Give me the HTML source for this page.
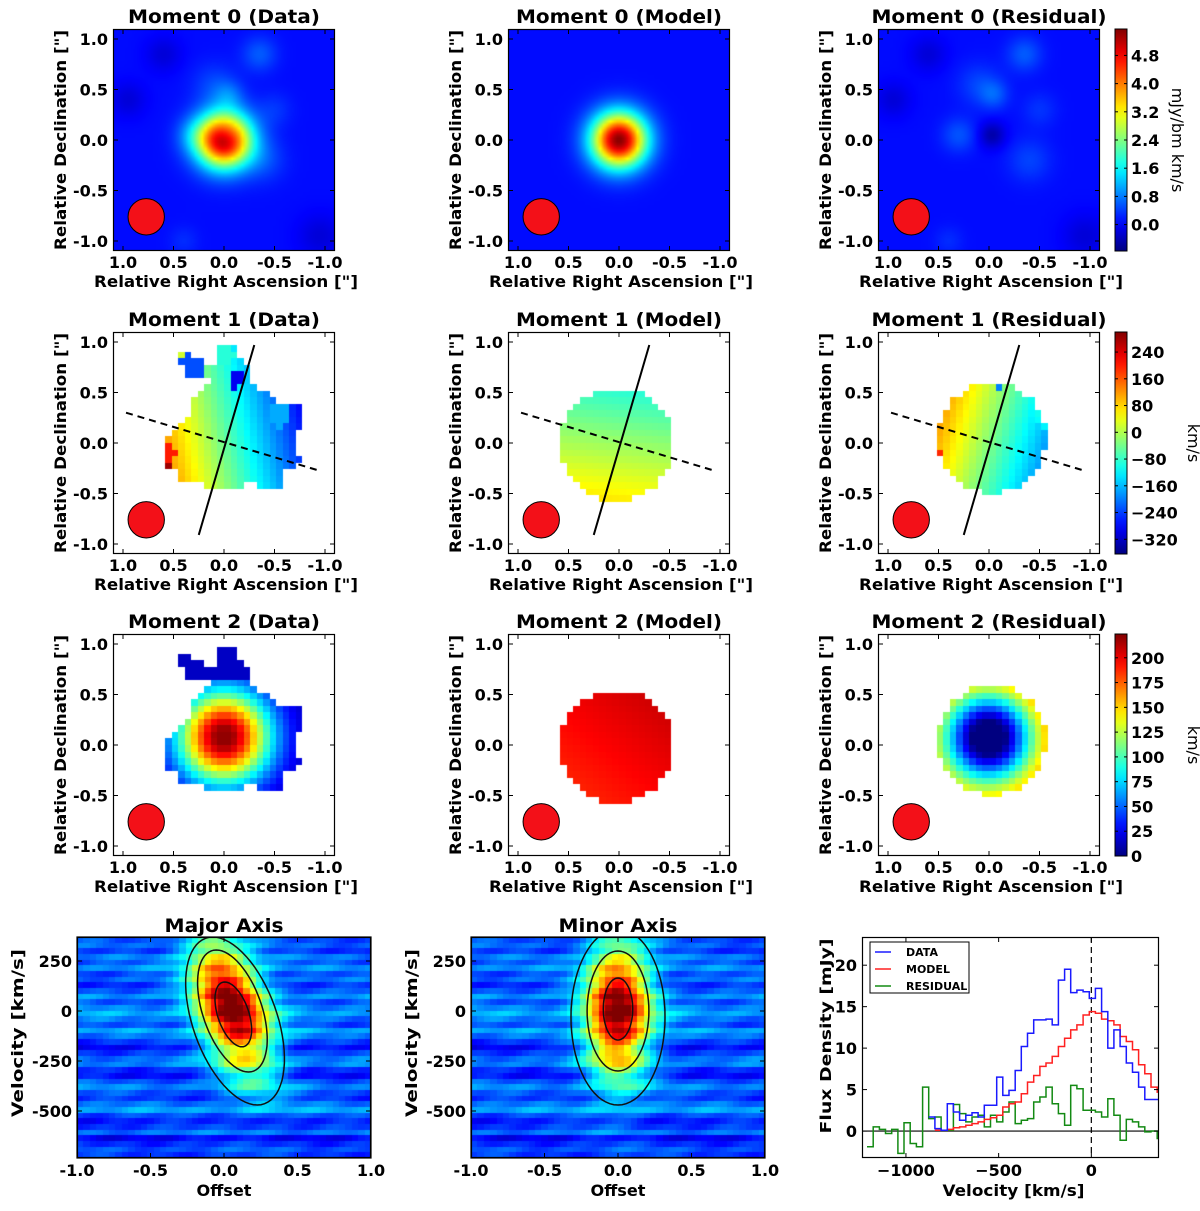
<!DOCTYPE html>
<html><head><meta charset="utf-8">
<style>
html,body{margin:0;padding:0;background:#fff;}
#wrap{position:relative;width:1200px;height:1211px;overflow:hidden;background:#fff;font-family:"DejaVu Sans","Liberation Sans",sans-serif;}
canvas{position:absolute;}
#ov{position:absolute;left:0;top:0;}
</style></head>
<body>
<div id="wrap">
<svg id="ov" width="1200" height="1211" xmlns="http://www.w3.org/2000/svg"></svg>
</div>
<script>
// ===== Data arrays =====
const resBlobs = [[-0.35,0.85,0.5,0.12],[0.1,0.55,0.35,0.15],[-0.05,0.45,0.45,0.1],[0.3,0.05,0.45,0.12],[-0.4,-0.2,0.35,0.15],[-0.5,0.3,0.25,0.12],[-0.03,0.05,-0.6,0.09],[0.6,0.85,-0.3,0.12],[0.95,0.4,-0.3,0.12],[-0.95,-0.95,-0.3,0.15],[0.4,-1.0,0.2,0.1]];
const m0Peak = [0.0, 0.0, 5.4, 0.19];
const m0Range = [-0.75, 5.55];
const m0Ticks = [0.0,0.8,1.6,2.4,3.2,4.0,4.8];
const maskRA  = [0.04,-0.06,-0.11,-0.24,-0.24,-0.42,-0.55,-0.75,-0.75,-0.69,-0.75,-0.60,-0.60,-0.32,-0.27,0.01,0.14,0.17,0.42,0.49,0.58,0.58,0.53,0.44,0.34,0.29,0.17,0.14,0.34,0.44,0.44,0.34,0.14,0.06,0.06];
const maskDec = [0.97,1.0,0.92,0.76,0.59,0.52,0.38,0.36,0.16,-0.04,-0.17,-0.30,-0.43,-0.43,-0.40,-0.48,-0.48,-0.40,-0.38,-0.28,-0.23,-0.09,0.13,0.15,0.29,0.46,0.54,0.62,0.64,0.79,0.92,0.90,0.76,0.76,0.97];
const modelDisk = [0.02,-0.01,0.56];
const resDisk = [-0.03,0.05,0.54];
const m1DataCoef = [-45, 280, -60];
const m1ModelCoef = [-15, 20, -140];
const m1Patches = [[0.32,0.75,-230,0.14],[-0.12,0.62,-290,0.08],[0.0,0.88,-90,0.1],[0.55,-0.1,200,0.08],[0.55,-0.25,280,0.05],[-0.55,0.28,-170,0.12]];
const m1Range = [-364, 300];
const m1Ticks = [-320,-240,-160,-80,0,80,160,240];
const m1Major = [[0.25,-0.91],[-0.3,0.97]];
const m1Minor = [[0.97,0.3],[-0.93,-0.27]];
const m2DataPeak = [0.0, 0.08, 215, 0.32, 10];
const m2Model = [198, -10, 12];
const m2Range = [0, 224];
const m2Ticks = [0,25,50,75,100,125,150,175,200];
const beam = [0.77,-0.76,0.18];
const pvBgRows = [0.2,0.22,0.17,0.24,0.2,0.26,0.19,0.23,0.17,0.22,0.28,0.21,0.26,0.3,0.24,0.19,0.28,0.23,0.17,0.12,0.18,0.24,0.26,0.17,0.14,0.21,0.26,0.2,0.17,0.23,0.28,0.19,0.15,0.18,0.24,0.12,0.17,0.21,0.18];
const pvMajor = [0.05, 20, 0.16, 230, 0.8, -0.00036];
const pvMinor = [0.0, 0, 0.15, 230, 0.8, 0.0];
const pvContMajor = [[0.3,420,-50],[0.21,305,0],[0.11,162,-17]];
const pvContMinor = [[0.32,440,-30],[0.21,300,0],[0.1,155,10]];
const pvXTicks = [-1.0,-0.5,0.0,0.5,1.0];
const pvYTicks = [250,0,-250,-500];
const specStart = -1210, specWidth = 33.3;
const specResidual = [-1.9,0.5,0.2,-0.3,0.2,-2.7,1.0,-1.5,-1.9,5.3,1.5,1.7,0.1,0.1,3.2,2.1,1.1,1.7,1.9,0.5,1.9,1.1,2.3,3.5,0.9,1.3,1.5,3.5,4.1,5.3,3.3,2.1,0.7,5.5,5.1,2.5,2.5,2.3,1.7,3.9,1.9,-1.1,1.4,1.1,0.5,-0.1,0.0,-0.9];
const specModel = [null,null,null,null,null,null,null,null,null,null,null,0.1,0.1,0.2,0.4,0.5,0.7,0.9,1.1,1.4,1.6,1.9,2.9,3.3,3.5,4.5,5.9,6.7,7.8,8.2,9.0,10.2,11.2,12.2,12.8,14.0,14.4,14.2,13.5,13.3,12.8,11.4,10.8,9.8,8.0,6.9,5.3,4.7];
const specData = [null,null,null,null,null,null,null,null,null,null,1.7,0.3,0.1,3.3,2.3,1.3,1.9,2.2,1.7,3.1,3.1,6.5,4.3,4.9,7.3,10.2,11.8,13.4,13.4,13.5,12.8,18.2,19.5,16.7,17.0,16.8,16.0,17.2,14.4,10.0,12.2,10.2,8.2,7.1,5.3,3.8,3.8,3.8];
const specXTicks = [-1000,-500,0];
const specYTicks = [0,5,10,15,20];

// ===== helpers =====
const NS = "http://www.w3.org/2000/svg";
const svg = document.getElementById('ov');
const wrap = document.getElementById('wrap');
function el(tag, attrs, parent){const e=document.createElementNS(NS,tag);for(const k in attrs)e.setAttribute(k,attrs[k]);(parent||svg).appendChild(e);return e;}
function txt(s, x, y, size, opts){
  opts=opts||{};
  const t=el('text',{x:x,y:y,'font-size':size,'font-weight':opts.w||'bold','text-anchor':opts.a||'middle','font-family':'"DejaVu Sans","Liberation Sans",sans-serif',fill:'#000'});
  if(opts.rot!==undefined) t.setAttribute('transform','rotate('+opts.rot+' '+x+' '+y+')');
  if(opts.len){t.setAttribute('textLength',opts.len);t.setAttribute('lengthAdjust','spacingAndGlyphs');}
  t.textContent=s;return t;
}
function jet(t){t=Math.max(0,Math.min(1,t));const c=x=>Math.round(255*Math.max(0,Math.min(1,x)));return [c(1.5-Math.abs(4*t-3)),c(1.5-Math.abs(4*t-2)),c(1.5-Math.abs(4*t-1))];}
function makeImage(name,x,y,w,h,nx,ny,fn,vmin,vmax,smooth){
  const c=document.createElement('canvas');c.width=w;c.height=h;c.style.left=x+'px';c.style.top=y+'px';
  
  
  wrap.insertBefore(c, svg);
  const s=document.createElement('canvas');s.width=nx;s.height=ny;
  const sc=s.getContext('2d');const im=sc.createImageData(nx,ny);
  for(let j=0;j<ny;j++)for(let i=0;i<nx;i++){
    const v=fn(i,j);const k=(j*nx+i)*4;
    if(v===null){im.data[k+3]=0;continue;}
    const col=jet((v-vmin)/(vmax-vmin));im.data[k]=col[0];im.data[k+1]=col[1];im.data[k+2]=col[2];im.data[k+3]=255;
  }
  sc.putImageData(im,0,0);
  const ctx=c.getContext('2d');ctx.imageSmoothingEnabled=smooth;ctx.drawImage(s,0,0,w,h);
}
function inPoly(px,py,xs,ys){let ins=false;for(let i=0,j=xs.length-1;i<xs.length;j=i++){if(((ys[i]>py)!==(ys[j]>py))&&(px<(xs[j]-xs[i])*(py-ys[i])/(ys[j]-ys[i])+xs[i]))ins=!ins;}return ins;}
function inDisk(ra,dec,d){return (ra-d[0])**2+(dec-d[1])**2<=d[2]*d[2];}
function g2(ra,dec,b){return b[2]*Math.exp(-((ra-b[0])**2+(dec-b[1])**2)/(2*b[3]*b[3]));}

// ===== map panels =====
const colX=[113,508,878], rowY=[29,332,634], SZ=222, SC=101;
function raOf(i,n){return 1.1-(i+0.5)*2.2/n;}
function m0res(ra,dec){let v=0.1;for(const b of resBlobs)v+=g2(ra,dec,b);return v;}
function m0model(ra,dec){return 0.1+g2(ra,dec,m0Peak);}
function m1data(ra,dec){let v=m1DataCoef[0]+m1DataCoef[1]*ra+m1DataCoef[2]*dec;for(const p of m1Patches){const d=Math.hypot(ra-p[0],dec-p[1]);if(d<p[3])v=p[2];}return v;}
function m1model(ra,dec){return m1ModelCoef[0]+m1ModelCoef[1]*ra+m1ModelCoef[2]*dec;}
function m2data(ra,dec){const b=[m2DataPeak[0],m2DataPeak[1],m2DataPeak[2],m2DataPeak[3]];let v=m2DataPeak[4]+g2(ra,dec,b);if(dec>0.62)v=Math.min(v,15);return Math.min(v,220);}
function m2model(ra,dec){return m2Model[0]+m2Model[1]*ra+m2Model[2]*dec;}

function mapAxes(col,row,title,key,tlen){
  const x0=colX[col],y0=rowY[row],cx=x0+SZ/2,cy=y0+SZ/2;
  const g=el('g',{});
  
  
  const fr=el('rect',{x:x0+0.5,y:y0+0.5,width:SZ-1,height:SZ-1,fill:'none',stroke:'#000','stroke-width':1.2},g);
  
  
  const tl=['1.0','0.5','0.0','-0.5','-1.0'], tv=[1,0.5,0,-0.5,-1];
  tv.forEach((v,k)=>{
    const px=cx-v*SC, py=cy-v*SC;
    el('line',{x1:px,y1:y0,x2:px,y2:y0+5,stroke:'#000'},g);
    el('line',{x1:px,y1:y0+SZ,x2:px,y2:y0+SZ-5,stroke:'#000'},g);
    el('line',{x1:x0,y1:py,x2:x0+5,y2:py,stroke:'#000'},g);
    el('line',{x1:x0+SZ,y1:py,x2:x0+SZ-5,y2:py,stroke:'#000'},g);
    const a=txt(tl[k],px,y0+239,16,{});
    
    
    const b=txt(tl[k],x0-5,py+6,16,{a:'end'});
    
    
  });
  const xl=txt('Relative Right Ascension ["]',cx+2,y0+258,16,{len:264});
  
  
  const yl=txt('Relative Declination ["]',x0-47,cy,16,{rot:-90,len:220});
  
  
  const tt=txt(title,cx,y0-6,19,{len:tlen});
  
  
  const bc=el('circle',{cx:cx-beam[0]*SC,cy:cy-beam[1]*SC,r:beam[2]*SC,fill:'#f31018',stroke:'#000','stroke-width':1},g);
  
  
  return {x0,y0,cx,cy,g};
}
function mapImage(col,row,key,fn,range,nx,smooth){
  const x0=colX[col],y0=rowY[row];
  makeImage(key+'-image',x0,y0,SZ,SZ,nx,nx,(i,j)=>fn(raOf(i,nx),raOf(j,nx)),range[0],range[1],smooth);
}
function colorbar(row,ticks,range,label,key,lx){
  const y0=rowY[row],x=1115,w=12;
  const defs=el('defs',{});
  const lg=el('linearGradient',{id:'cb'+row,x1:0,y1:1,x2:0,y2:0},defs);
  for(let k=0;k<=20;k++){const c=jet(k/20);el('stop',{offset:(k/20),'stop-color':'rgb('+c.join(',')+')'},lg);}
  const r=el('rect',{x:x,y:y0,width:w,height:SZ,fill:'url(#cb'+row+')',stroke:'#000','stroke-width':1});
  
  
  ticks.forEach(v=>{
    const py=y0+SZ-(v-range[0])/(range[1]-range[0])*SZ;
    el('line',{x1:x,y1:py,x2:x+3,y2:py,stroke:'#000'});
    el('line',{x1:x+w,y1:py,x2:x+w-3,y2:py,stroke:'#000'});
    const t=txt((row!==0)?String(v).replace('-','\u2212'):v.toFixed(1),x+w+4,py+6,16,{a:'start'});
    
    
  });
  const l=txt(label,lx,y0+SZ/2,16,{rot:90,w:'normal'});
  
  
}

mapImage(0,0,'moment0-data',(ra,dec)=>m0model(ra,dec)+m0res(ra,dec)-0.1,m0Range,66,true);
mapImage(1,0,'moment0-model',(ra,dec)=>m0model(ra,dec),m0Range,66,true);
mapImage(2,0,'moment0-residual',(ra,dec)=>m0res(ra,dec),m0Range,66,true);
mapImage(0,1,'moment1-data',(ra,dec)=>inPoly(ra,dec,maskRA,maskDec)?m1data(ra,dec):null,m1Range,34,false);
mapImage(1,1,'moment1-model',(ra,dec)=>inDisk(ra,dec,modelDisk)?m1model(ra,dec):null,m1Range,34,false);
mapImage(2,1,'moment1-residual',(ra,dec)=>inDisk(ra,dec,resDisk)?(m1data(ra,dec)-m1model(ra,dec)):null,m1Range,34,false);
mapImage(0,2,'moment2-data',(ra,dec)=>inPoly(ra,dec,maskRA,maskDec)?m2data(ra,dec):null,m2Range,34,false);
mapImage(1,2,'moment2-model',(ra,dec)=>inDisk(ra,dec,modelDisk)?m2model(ra,dec):null,m2Range,34,false);
mapImage(2,2,'moment2-residual',(ra,dec)=>inDisk(ra,dec,resDisk)?Math.max(0,m2model(ra,dec)-m2data(ra,dec)):null,m2Range,34,false);

const titles=[['Moment 0 (Data)','Moment 0 (Model)','Moment 0 (Residual)'],['Moment 1 (Data)','Moment 1 (Model)','Moment 1 (Residual)'],['Moment 2 (Data)','Moment 2 (Model)','Moment 2 (Residual)']];
const titleLens=[192,206,235];
const keys=[['moment0-data','moment0-model','moment0-residual'],['moment1-data','moment1-model','moment1-residual'],['moment2-data','moment2-model','moment2-residual']];
for(let r=0;r<3;r++)for(let c=0;c<3;c++){
  const a=mapAxes(c,r,titles[r][c],keys[r][c],titleLens[c]);
  if(r===1){
    const l1=el('line',{x1:a.cx-m1Major[0][0]*SC,y1:a.cy-m1Major[0][1]*SC,x2:a.cx-m1Major[1][0]*SC,y2:a.cy-m1Major[1][1]*SC,stroke:'#000','stroke-width':2});
    
    
    const l2=el('line',{x1:a.cx-m1Minor[0][0]*SC,y1:a.cy-m1Minor[0][1]*SC,x2:a.cx-m1Minor[1][0]*SC,y2:a.cy-m1Minor[1][1]*SC,stroke:'#000','stroke-width':2,'stroke-dasharray':'7,5'});
    
    
  }
}
colorbar(0,m0Ticks,m0Range,'mJy/bm km/s','moment0',1172);
colorbar(1,m1Ticks,m1Range,'km/s','moment1',1188);
colorbar(2,m2Ticks,m2Range,'km/s','moment2',1188);

// ===== PV diagrams =====
const pvX=[77,471], pvY=937, pvW=294, pvH=221, vTop=370, vBot=-735;
function pvx(x0,o){return x0+(o+1)/2*pvW;}
function pvy(v){return pvY+(vTop-v)/(vTop-vBot)*pvH;}
function pvField(p){
  return (i,j)=>{
    const o=-1+(i+0.5)*2/46, v=vTop-(j+0.5)*(vTop-vBot)/39;
    const bg=pvBgRows[j]+0.025*Math.sin(i*0.7+j*1.3)+0.02*Math.cos(i*0.23-j*0.5);
    const oc=p[0]+p[5]*(v-p[1]);
    return bg+p[4]*Math.exp(-((o-oc)**2/(2*p[2]*p[2])+(v-p[1])**2/(2*p[3]*p[3])));
  };
}
function pvPanel(k,title,params,conts,key){
  const x0=pvX[k];
  makeImage(key+'-image',x0,pvY,pvW,pvH,46,39,pvField(params),0,1,false);
  const f=el('rect',{x:x0+0.5,y:pvY+0.5,width:pvW-1,height:pvH-1,fill:'none',stroke:'#000','stroke-width':1.2});
  
  
  conts.forEach(c=>{
    let d='';
    for(let t=0;t<=72;t++){const a=t/72*2*Math.PI;const v=c[2]+c[1]*Math.sin(a);const o=params[0]+params[5]*(v-params[1])+c[0]*Math.cos(a);d+=(t?'L':'M')+pvx(x0,o).toFixed(1)+' '+pvy(v).toFixed(1);}
    const p=el('path',{d:d,fill:'none',stroke:'#111','stroke-width':1.5});
    
    
  });
  el('rect',{x:x0-4,y:pvY-30,width:pvW+8,height:29.5,fill:'#fff'});
  el('rect',{x:x0-4,y:pvY+pvH,width:pvW+8,height:12,fill:'#fff'});
  el('rect',{x:x0,y:pvY,width:pvW,height:pvH,fill:'none',stroke:'#000','stroke-width':1.2});
  pvXTicks.forEach(o=>{
    const px=pvx(x0,o);
    el('line',{x1:px,y1:pvY,x2:px,y2:pvY+5,stroke:'#000'});
    el('line',{x1:px,y1:pvY+pvH,x2:px,y2:pvY+pvH-5,stroke:'#000'});
    const t=txt(o.toFixed(1),px,pvY+pvH+18,16,{});
    
    
  });
  pvYTicks.forEach(v=>{
    const py=pvy(v);
    el('line',{x1:x0,y1:py,x2:x0+5,y2:py,stroke:'#000'});
    el('line',{x1:x0+pvW,y1:py,x2:x0+pvW-5,y2:py,stroke:'#000'});
    const t=txt(String(v),x0-5,py+6,16,{a:'end'});
    
    
  });
  const tt=txt(title,x0+pvW/2,pvY-5,19,{len:119});
  
  
  const xl=txt('Offset',x0+pvW/2,pvY+pvH+38,16,{len:55});
  
  
  const yl=txt('Velocity [km/s]',x0-54,pvY+96,16,{rot:-90,len:168});
  
  
}
pvPanel(0,'Major Axis',pvMajor,pvContMajor,'pv-major');
pvPanel(1,'Minor Axis',pvMinor,pvContMinor,'pv-minor');

// ===== Spectrum =====
const sx0=862, sy0=937, sW=297, sH=221, sVmin=-1237, sVmax=365, sFmin=-3.25, sFmax=23.4;
function sx(v){return sx0+(v-sVmin)/(sVmax-sVmin)*sW;}
function sy(f){return sy0+(sFmax-f)/(sFmax-sFmin)*sH;}
const clip=el('clipPath',{id:'specclip'});el('rect',{x:sx0,y:sy0,width:sW,height:sH},clip);
function stepPath(arr,color,name){
  let d='',started=false;
  arr.forEach((f,i)=>{
    if(f===null)return;
    const l=specStart+i*specWidth, r=l+specWidth;
    if(!started){d+='M'+sx(l).toFixed(1)+' '+sy(f).toFixed(1);started=true;}
    else d+='V'+sy(f).toFixed(1);
    d+='H'+sx(r).toFixed(1);
  });
  const p=el('path',{d:d,fill:'none',stroke:color,'stroke-width':1.5,'clip-path':'url(#specclip)'});
  
  
}
el('line',{x1:sx0,y1:sy(0),x2:sx0+sW,y2:sy(0),stroke:'#000','stroke-width':1.2});
const vd=el('line',{x1:sx(0),y1:sy0,x2:sx(0),y2:sy0+sH,stroke:'#000','stroke-width':1.2,'stroke-dasharray':'6,4'});


stepPath(specResidual,'#138a13','residual-spectrum');
stepPath(specModel,'#ff2020','model-spectrum');
stepPath(specData,'#1a1aff','data-spectrum');
const sf=el('rect',{x:sx0+0.5,y:sy0+0.5,width:sW-1,height:sH-1,fill:'none',stroke:'#000','stroke-width':1.2});


specXTicks.forEach(v=>{
  const px=sx(v);
  el('line',{x1:px,y1:sy0,x2:px,y2:sy0+5,stroke:'#000'});
  el('line',{x1:px,y1:sy0+sH,x2:px,y2:sy0+sH-5,stroke:'#000'});
  const t=txt(String(v).replace('-','\u2212'),px,sy0+sH+18,16,{});
  
  
});
specYTicks.forEach(f=>{
  const py=sy(f);
  el('line',{x1:sx0,y1:py,x2:sx0+5,y2:py,stroke:'#000'});
  el('line',{x1:sx0+sW,y1:py,x2:sx0+sW-5,y2:py,stroke:'#000'});
  const t=txt(String(f),sx0-5,py+6,16,{a:'end'});
  
  
});
const sxl=txt('Velocity [km/s]',sx0+sW/2+3,sy0+sH+38,16,{len:142});


const syl=txt('Flux Density [mJy]',sx0-31,1036,15,{rot:-90,len:195});


const lgd=el('g',{});


el('rect',{x:870,y:942,width:99,height:51,fill:'#fff',stroke:'#000','stroke-width':1},lgd);
[['DATA','#1a1aff'],['MODEL','#ff2020'],['RESIDUAL','#138a13']].forEach((e,k)=>{
  const y=952+k*17;
  const ln=el('line',{x1:875,y1:y,x2:891,y2:y,stroke:e[1],'stroke-width':1.5},lgd);
  
  
  const t=txt(e[0],906,y+4,11,{a:'start'});
  
  
});
</script>
</body></html>
